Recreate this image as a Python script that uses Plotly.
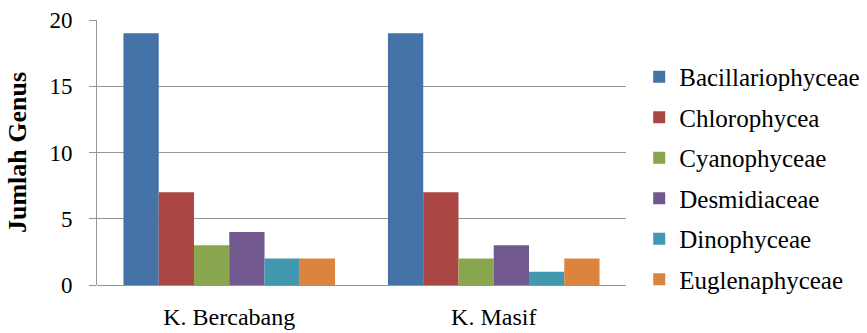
import plotly.graph_objects as go

# Number of genera per phytoplankton class at each site
categories = ["K. Bercabang", "K. Masif"]
series_names = ["Bacillariophyceae", "Chlorophycea", "Cyanophyceae",
                "Desmidiaceae", "Dinophyceae", "Euglenaphyceae"]
series_values = [
    [19, 19],
    [7, 7],
    [3, 2],
    [4, 3],
    [2, 1],
    [2, 2],
]
series_colors = ["#4572A7", "#AA4643", "#89A54E", "#71588F", "#4198AF", "#DB843D"]
y_ticks = [0, 5, 10, 15, 20]

FONT = "Liberation Serif"
AXIS_GREY = "#959595"

fig = go.Figure()
for i, (name, vals, col) in enumerate(zip(series_names, series_values, series_colors)):
    fig.add_trace(go.Bar(
        name=name, x=categories, y=vals,
        marker=dict(color=col, line=dict(width=0)),
        legendgroup=f"g{i}",
    ))

fig.update_layout(
    width=867, height=333,
    margin=dict(l=97, r=241, t=20, b=48, autoexpand=False),
    paper_bgcolor="white", plot_bgcolor="white",
    barmode="group", bargap=0.2, bargroupgap=0,
    font=dict(family=FONT, size=23, color="black"),
    showlegend=True,
    legend=dict(
        x=1.025, xanchor="left", y=0.404, yanchor="middle",
        font=dict(family=FONT, size=25, color="black"),
        tracegroupgap=5, itemwidth=30,
        bgcolor="rgba(0,0,0,0)",
    ),
    xaxis=dict(
        showgrid=False, showline=False, ticks="",
        ticklabelstandoff=15, automargin=False,
        tickfont=dict(family=FONT, size=24, color="black"),
        fixedrange=True,
    ),
    yaxis=dict(
        range=[0, 20], tickvals=y_ticks, automargin=False,
        showgrid=True, gridcolor=AXIS_GREY, gridwidth=1,
        showline=True, linecolor=AXIS_GREY, linewidth=1,
        ticks="outside", ticklen=7, tickcolor=AXIS_GREY,
        ticklabelstandoff=12,
        tickfont=dict(family=FONT, size=23, color="black"),
        zeroline=True, zerolinecolor=AXIS_GREY, zerolinewidth=1,
        title=dict(text="<b>Jumlah Genus</b>", font=dict(family=FONT, size=26, color="black")),
    ),
)

fig.write_html("out.html")
